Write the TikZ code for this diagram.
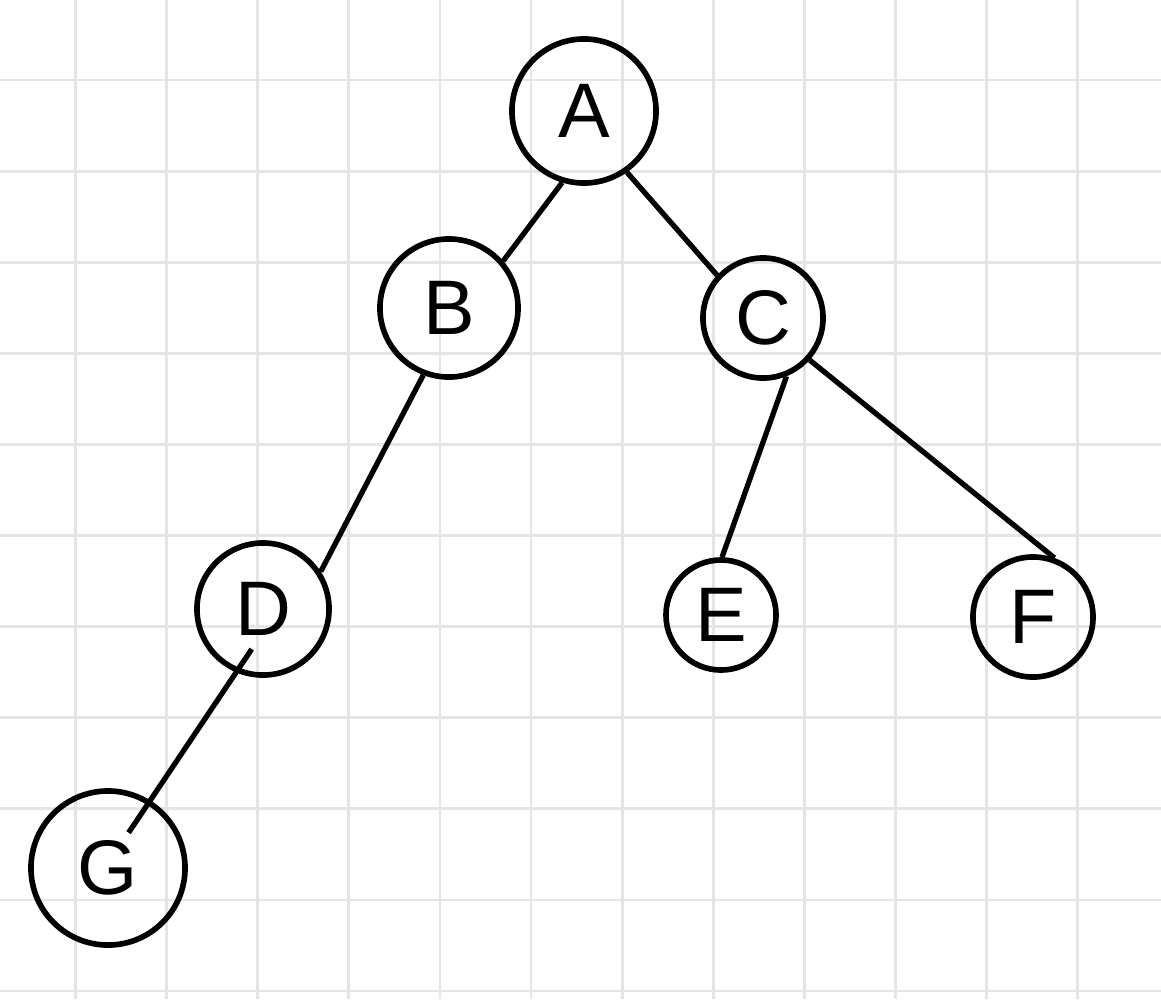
\documentclass[tikz,border=0pt]{standalone}
\usepackage{fontspec}
\setmainfont{Liberation Sans}
\usetikzlibrary{positioning}

\begin{document}
\begin{tikzpicture}[
        x=0.01cm, y=-0.01cm,
        gridline/.style={draw=black!10, line width=0.8pt},
        treenode/.style={draw, circle, line width=1.6pt, inner sep=0pt, font=\fontsize{22}{26}\selectfont},
        edge/.style={line width=1.5pt}
    ]
        \useasboundingbox[fill=white] (0,0) rectangle (1161,999);
        % grid paper
        \foreach \k in {0,...,11}
            \draw[gridline] ({75.5+91.1*\k},0) -- ({75.5+91.1*\k},999);
        \foreach \k in {0,...,10}
            \draw[gridline] (0,{80+91.1*\k}) -- (1161,{80+91.1*\k});

        \node[treenode, minimum size=1.44cm] (A) at (584,111) {A};
        \node[treenode, minimum size=1.38cm] (B) at (449,308) {B};
        \node[treenode, minimum size=1.2cm] (C) at (763,318) {C};
        \node[treenode, minimum size=1.32cm] (D) at (263,609) {D};
        \node[treenode, minimum size=1.1cm] (E) at (721,615) {E};
        \node[treenode, minimum size=1.2cm] (F) at (1033,617) {F};
        \node[treenode, minimum size=1.54cm] (G) at (108,868) {G};

        \draw[edge] (A.-107) -- (B.41);
        \draw[edge] (A.-55) -- (C.137);
        \draw[edge] (B.-111) -- (D.33);
        \draw[edge] (C.-68) -- (E.89);
        \draw[edge] (C.-42) -- (F.70);
        \draw[edge, shorten <=-0.28cm, shorten >=-0.39cm] (D.-113) -- (G.58);
    \end{tikzpicture}
\end{document}
